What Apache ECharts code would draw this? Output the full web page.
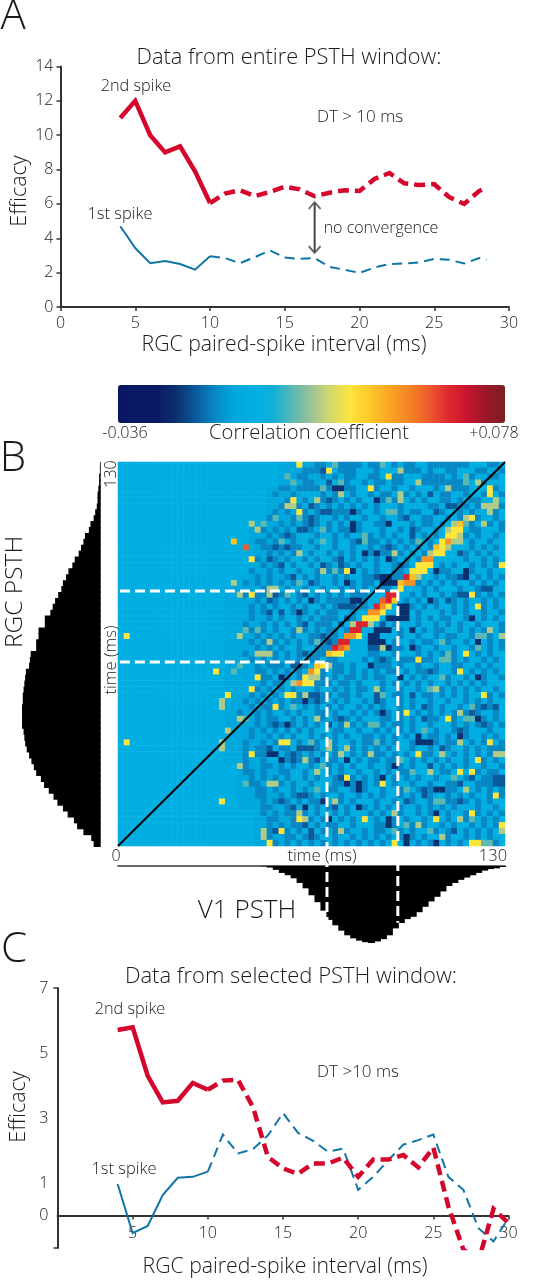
<!DOCTYPE html>
<html><head><meta charset="utf-8">
<style>html,body{margin:0;padding:0;background:#fff}#c{width:536px;height:1280px}</style>
<script src="https://cdn.jsdelivr.net/npm/echarts@6/dist/echarts.min.js"></script>
</head><body><div id="c"></div>
<script>
// Panel A values
const intervalA=[4,5,6,7,8,9,10,11,12,13,14,15,16,17,18,19,20,21,22,23,24,25,26,27,28,28.5];
const secondSpikeA=[11,12,10,9,9.35,7.9,6.05,6.6,6.8,6.45,6.7,7,6.85,6.45,6.65,6.8,6.75,7.45,7.8,7.2,7.1,7.15,6.4,6,6.75,6.95];
const firstSpikeA=[4.7,3.43,2.55,2.67,2.5,2.17,2.95,2.85,2.55,2.9,3.3,2.88,2.8,2.85,2.33,2.17,1.98,2.3,2.5,2.53,2.6,2.8,2.75,2.53,2.85,2.75];
const arrowA=[3.2,6.05];
const ticksAX=[0,5,10,15,20,25,30];
const ticksAY=[0,2,4,6,8,10,12,14];
// Panel C values
const intervalC=[4,5,6,7,8,9,10,11,12,13,14,15,16,17,18,19,20,21,22,23,24,25,26,27,28,29,30];
const secondSpikeC=[5.71,5.79,4.3,3.48,3.53,4.08,3.87,4.15,4.18,3.34,1.8,1.45,1.28,1.6,1.6,1.78,1.19,1.72,1.72,1.86,1.48,2.09,.28,-1.05,-1.4,.2,-.23];
const firstSpikeC=[.97,-.54,-.32,.63,1.16,1.19,1.35,2.49,1.91,2.04,2.47,3.15,2.54,2.3,1.96,2.06,.79,1.19,1.7,2.18,2.32,2.49,1.19,.79,-.39,-.8,-.08];
const ticksCX=[5,10,15,20,25,30];
const ticksCY=[0,1,3,5,7];
// PSTH panels (relative rate per 2 ms bin)
const rgcPsth=[1,1,2,2,3,4,4,5,7,9,13,15,20,22,25,28,33,36,41,44,48,50,54,58,61,64,71,71,79,79,82,82,89,90,91,95,96,97,98,99,99,100,100,100,100,98,97,96,94,91,88,85,82,76,72,66,60,55,48,42,34,30,22,12,9];
const v1Psth=[0,0,0,0,0,0,0,0,0,0,0,0,0,0,0,0,0,0,0,0,0,0,0,0,.5,2,5,9,12,16,22,29,38,47,58,70,77,84,90,94,97,99,100,98,95,90,81,74,69,66,60,53,46,40,33,26,22,18,15,12,9,6,4,3,1];
// Correlation map: level values and the cells read at each level [col,row,...]; row 0 is the top
const backgroundLevel=.0039, fringeLevel=-.0014, mediumLevel=-.0075, darkLevel=-.0132, navyLevel=-.0189;
const tealLevel=.0155, sageLevel=.023, yellowLevel=.0324, amberLevel=.039, orangeLevel=.047, vermilionLevel=.0552, redLevel=.0625;
const colorStops=['#0a1560','#0b1a68','#0a1a62','#0b3070','#0a5a9c','#0788c4','#00a8de','#00aee2','#10b0d8','#5ab8b4','#9cc498','#d6d86a','#fde53c','#fdc82a','#f9a522','#f58526','#ee5f2c','#e02a30','#c8162f','#9c1628','#7a2020'];
const fringeBands=[[0,3,27,33],[4,10,25,30],[11,20,22,27],[21,40,18,24],[41,50,18,24],[51,58,20,26],[59,64,23,28]];
const mediumByRow=[
[33,34,37,38,39,40,42,43,46,48,49,52,53,54,55,56,57,58,62,63],
[31,32,33,37,38,39,43,48,49,50,52,55,56,60,61,64],
[30,31,34,36,38,39,42,43,46,47,51,52,53,54,56,59,62,63],
[31,32,35,38,41,43,44,46,47,51,52,53,54,55,56,57,61],
[27,28,30,31,32,33,35,38,39,43,46,49,53,56,57,58,63],
[26,29,34,36,39,42,44,45,48,50,52,54,55,58,61,64],
[28,31,34,36,38,40,44,46,49,51,54,55,57,59,60],
[27,30,33,35,37,39,41,43,47,52,53,57,58,60,64],
[26,28,31,33,36,37,38,40,43,47,49,50,54,57,59,63],
[25,29,31,33,36,38,41,44,47,51,52,55,57,60,63],
[27,29,31,33,35,37,40,43,44,49,51,52,54,59,62,64],
[24,26,28,32,35,37,38,40,44,47,50,53,59,60,64],
[25,27,29,33,36,38,42,44,46,51,53,58,60,63],
[23,24,26,29,32,36,39,42,43,45,47,49,52,59,62],
[24,25,27,29,30,33,36,39,42,44,46,48,50,52,59,61,63],
[25,27,29,32,35,37,39,42,44,45,47,49,51,58,60,62],
[23,26,28,31,33,36,39,41,43,46,48,50,58,61,63],
[24,26,29,32,35,38,40,43,46,48,54,56,59,61,63],
[22,25,27,30,33,35,37,41,43,46,47,49,53,54,55,59,62],
[23,25,28,31,33,36,38,41,42,43,46,47,53,55,56,60,62,64],
[21,23,25,27,29,33,36,39,41,42,50,52,54,56,59,61,63],
[24,26,28,31,34,37,39,41,43,44,45,51,53,57,60,62],
[21,23,24,27,30,33,35,37,39,40,41,49,51,54,56,60,62,64],
[23,26,28,30,33,35,36,37,38,41,48,50,53,56,58,61,63],
[22,24,26,29,31,34,36,40,41,49,51,53,56,58,61,63],
[22,24,27,29,31,33,35,36,39,50,54,56,58,61,64],
[22,25,27,30,32,34,35,36,39,50,52,54,55,58,61,63],
[21,24,26,28,30,33,34,35,37,46,50,53,55,57,60,64],
[22,24,26,29,31,33,35,36,38,47,51,53,54,57,59,61,64],
[23,25,27,29,32,33,35,36,47,50,53,55,56,59,62],
[22,24,26,28,30,32,34,36,46,49,51,52,55,58,62,64],
[23,25,27,30,33,34,35,46,47,50,53,56,59,62,64],
[21,26,28,30,32,33,34,42,43,46,50,52,54,56,60,62],
[22,24,26,28,30,32,33,35,36,41,43,45,47,48,49,51,52,56,58,61,63],
[23,25,26,27,31,36,37,39,43,44,45,47,50,53,56,57,60,62],
[23,24,26,28,30,34,36,37,39,41,43,45,46,48,50,51,53,56,59,61,63],
[24,25,28,30,34,36,38,39,41,43,44,49,51,55,58,61,64],
[24,26,27,33,34,35,37,38,40,44,46,48,50,52,55,57,59,61],
[23,25,27,29,33,36,38,40,41,44,47,50,54,56,58,60,63],
[22,24,26,30,34,35,37,38,40,46,47,51,52,54,56,58,62,64],
[21,23,25,27,29,30,32,34,36,38,41,44,47,49,52,55,58,60,62],
[22,24,25,27,31,33,35,37,40,42,44,47,49,52,54,57,60,62],
[20,23,25,28,30,33,34,36,39,41,43,45,47,50,52,54,56,58,60,63],
[21,23,25,26,29,31,34,36,38,40,44,45,47,49,52,53,56,61,63],
[23,25,27,29,31,33,37,39,41,44,46,47,49,52,56,58,60,62,64],
[22,24,26,28,30,32,36,37,40,43,45,47,49,53,56,58,62],
[22,25,27,29,32,34,36,38,41,42,44,46,48,52,53,55,58,61,63],
[21,24,26,30,33,36,39,41,42,44,46,49,53,55,56,59,61,64],
[21,23,24,27,28,33,36,39,41,43,45,49,52,55,58,60,62,63,64],
[21,23,24,28,30,32,34,36,39,41,43,44,46,48,51,52,56,58,60,62],
[21,24,28,30,32,35,36,40,42,43,45,46,49,51,53,55,58,61,63],
[21,24,25,27,29,32,35,37,39,42,45,47,49,54,56,58,61,64],
[21,22,24,27,28,31,35,37,40,43,45,47,48,54,55,60,62,63],
[22,24,26,28,31,33,36,39,41,43,46,48,50,53,56,58,61,62],
[22,23,27,29,32,36,37,39,41,43,46,49,52,55,56,60,61,62],
[23,24,26,29,31,35,36,39,41,44,47,50,52,55,56,60,62,64],
[23,24,27,29,32,34,37,40,42,44,47,49,52,55,57,59,62,64],
[24,26,28,30,32,33,37,39,43,46,49,52,55,56,58,60,62],
[24,25,28,31,33,35,38,41,43,45,47,50,52,54,56,60,63],
[24,26,28,29,31,33,36,38,42,44,47,50,52,55,58,60,62,64],
[25,26,29,32,34,37,39,41,43,46,48,51,55,58,61,63],
[25,27,29,30,33,35,36,39,43,44,46,49,51,54,56,59,61,63],
[25,28,30,32,34,36,38,41,43,44,47,49,53,55,58,60,62],
[25,28,29,31,33,36,39,41,43,45,47,49,51,55,58,60,62],
[26,28,30,32,34,36,38,40,42,44,48,50,52,55,57,63]];
const darkCells=[34,1,35,3,32,7,35,6,34,8,35,8,32,9,32,10,30,11,31,11,28,12,26,14,28,14,40,13,27,17,34,17,37,16,37,17,25,16,29,19,32,20,49,11,49,12,48,9,53,8,47,17,52,5,57,19,61,21,62,21,45,14,55,7,56,7,57,15,43,19,26,22,31,22,25,23,27,25,25,25,31,27,31,32,34,29,35,30,37,24,38,24,39,24,37,27,38,26,29,34,30,34,32,39,33,39,33,40,57,22,58,22,55,23,44,27,44,33,42,31,43,31,52,35,43,39,43,40,49,39,51,41,61,41,63,41,59,42,26,44,35,44,37,43,61,44,51,43,29,49,25,48,29,50,30,48,31,48,32,48,33,50,37,53,30,56,31,56,27,57,29,58,36,58,32,62,32,63,26,62,31,61,57,45,54,48,52,51,57,54,63,53,64,53,63,54,64,54,51,55,51,56,57,57,48,57,59,53,56,62];
const navyCells=[36,4,37,4,39,8,39,10,39,11,41,15,39,18,38,20,43,6,45,10,43,15,45,16,53,18,58,18,58,19,44,19,45,19,44,20,45,20,46,20,32,23,39,23,40,23,30,25,27,36,31,40,52,23,47,24,48,24,47,25,48,25,47,26,48,26,45,26,46,26,43,28,44,28,45,28,49,28,42,29,43,29,42,30,43,30,44,30,49,31,45,31,60,30,59,26,60,36,42,34,47,36,44,42,28,44,26,49,25,49,27,50,38,50,38,54,40,54,40,55,34,57,31,58,40,58,35,60,60,43,50,46,57,46,50,47,51,47,52,47,46,51,44,53,53,55,54,55,53,59,45,60,45,61,48,63,48,64,53,64];
const tealCells=[36,0,28,2,29,3,37,3,26,9,30,9,24,10,36,18,30,20,34,13,34,11,27,13,34,4,41,12,41,13,44,0,58,3,58,2,45,6,45,8,46,8,58,10,50,13,23,28,21,28,28,22,33,30,54,30,60,29,61,29,60,31,55,32,54,33,55,33,54,36,52,38,44,39,59,41,61,64,62,64,19,35,20,34,29,41,51,45,42,44,43,44,58,43,59,43,43,47,32,47,47,50,34,51,33,55,21,54,49,52,56,53,48,55,53,57,54,57,59,60,48,61,46,62,52,62,21,43];
const sageCells=[47,1,28,7,29,7,33,6,37,5,22,10,23,11,30,15,34,18,19,20,25,21,26,21,50,3,55,4,60,3,47,5,47,6,63,6,61,7,62,7,63,7,62,8,61,10,58,9,46,15,52,15,56,10,55,11,57,12,56,13,57,13,55,14,50,19,20,22,25,22,20,29,30,28,25,30,23,32,24,32,25,32,39,27,29,37,31,39,32,36,33,36,35,34,42,27,62,28,64,29,44,31,43,38,53,38,57,42,20,43,33,43,38,44,17,40,17,41,17,47,17,48,18,45,20,51,25,54,26,54,33,52,38,48,35,47,35,48,37,49,31,50,36,57,30,59,31,60,24,62,24,63,37,62,57,47,54,49,42,49,63,49,64,49,46,59,57,60,50,61,64,62,54,63,58,55,52,52];
const yellowCells=[30,0,35,1,29,6,30,8,22,16,38,18,42,4,45,2,62,4,62,5,59,9,64,17,59,22,60,24,50,33,57,35,58,32,1,29,1,47,17,57,18,39,16,35,22,22,23,36,22,38,22,49,26,41,27,47,28,47,30,60,38,53,27,62,25,64,41,60,55,43,62,47,50,49,60,50,57,52,59,52,44,54,63,56,59,59,53,60,64,61,46,64,59,64,60,64,61,39,48,42,57,11,56,11,56,12,55,12,54,13,54,14,53,15,54,15,50,17,51,17,52,17,50,18,51,18,49,18,47,21,42,26,43,26,41,26,44,25,45,24,40,29,36,32,37,32,34,34,33,35,31,36,31,37,32,37,28,39,29,39];
const amberCells=[19,13,57,10,53,14,49,19,47,20,46,23,35,32,33,34];
const orangeCells=[55,13,51,16,52,16,48,20,49,20,44,24,43,25,42,25,38,29,39,29,38,31,32,35,30,37];
const vermilionCells=[21,14,44,23,37,31];
const redCells=[48,19,45,22,46,22,45,23,43,24,40,27,41,27,39,28,40,28,37,30,38,30,36,31];
const colorbarMin=-.036, colorbarMax=.078;
// Selected-window guides, in ms on the map's axes
const windowRowsMs=[86.3,62.3], windowColsMs=[94,70.2];
const guideLeftEndsMs=[-19.5,-29.6], guideBottomMs=-26;

const ink='#1a1a1a', red='#d5062e', blue='#0f75a5', FONT='"Open Sans"';
const mapRows=Array.from({length:65},(_,i)=>String(i));
const pairs=(xs,ys)=>xs.map((x,i)=>[x,ys[i]]);
const solidTo=(xs,ys)=>pairs(xs,ys).filter(p=>p[0]<=10);
const dashedFrom=(xs,ys)=>pairs(xs,ys).filter(p=>p[0]>=10);

const grid=new Array(65).fill(0).map(()=>new Array(65).fill(backgroundLevel));
fringeBands.forEach(([a,b,s,e])=>{for(let r=a;r<=b;r++)for(let c=s;c<=e;c++)grid[r][c]=fringeLevel;});
mediumByRow.forEach((cols,r)=>cols.forEach(c=>grid[r][c]=mediumLevel));
[[tealCells,tealLevel],[darkCells,darkLevel],[navyCells,navyLevel],[sageCells,sageLevel],[yellowCells,yellowLevel],[amberCells,amberLevel],[orangeCells,orangeLevel],[vermilionCells,vermilionLevel],[redCells,redLevel]]
 .forEach(([list,v])=>{for(let i=0;i<list.length;i+=2)grid[list[i+1]][list[i]]=v;});
const heatData=[];grid.forEach((row,r)=>row.forEach((v,c)=>heatData.push([c,r,v])));

const line=(xi,yi,data,color,width,type,extra)=>Object.assign({type:'line',xAxisIndex:xi,yAxisIndex:yi,data,symbol:'none',silent:true,lineStyle:{color,width,type:type||'solid',cap:'butt',join:'miter'}},extra||{});
const T=(x,y,text,size,o)=>({type:'text',x,y,rotation:(o&&o.rot)||0,z:50,silent:true,style:{text,fill:ink,font:`300 ${size}px ${FONT}`,align:'center',verticalAlign:'middle'}});
const axisStyle={lineStyle:{color:'#333',width:2}};
const labelStyle={color:ink,fontFamily:FONT,fontSize:16,fontWeight:300};
const chevron='path://M0,0 L6,7 L5,8.5 L0,2.6 L-5,8.5 L-6,7 Z';
const rgcBars=(p,api)=>{const r=api.value(1),s=api.coord([0,r]),e=api.coord([api.value(0),r]),h=api.size([0,1])[1];
 return {type:'rect',shape:{x:e[0],y:s[1]-h/2,width:s[0]-e[0],height:h+1},style:{fill:'#000'}};};
const v1Bars=(p,api)=>{const c=api.value(0),s=api.coord([c,0]),e=api.coord([c,api.value(1)]),w=api.size([1,0])[0];
 return {type:'rect',shape:{x:s[0]-w/2,y:s[1],width:w+1,height:e[1]-s[1]},style:{fill:'#000'}};};

const opt={animation:false,backgroundColor:'#fff',
grid:[
 {left:60.5,top:66.5,width:448.5,height:240.5},
 {left:118,top:462,width:387,height:384},
 {left:118,top:462,width:387,height:384},
 {left:22,top:462,width:78.7,height:384},
 {left:118,top:866,width:387,height:77},
 {left:57.5,top:988,width:451,height:260}],
xAxis:[
 {gridIndex:0,type:'value',min:0,max:30,interval:5,axisLine:axisStyle,axisTick:{length:4,lineStyle:{color:'#333',width:1.5}},axisLabel:Object.assign({margin:8},labelStyle,{customValues:ticksAX}),splitLine:{show:false}},
 {gridIndex:1,type:'category',data:mapRows,show:false},
 {gridIndex:2,type:'value',min:0,max:130,show:false},
 {gridIndex:3,type:'value',min:0,max:100,inverse:true,show:false},
 {gridIndex:4,type:'category',data:mapRows,axisLine:{lineStyle:{color:'#666',width:2}},axisTick:{show:false},axisLabel:{show:false},splitLine:{show:false},position:'top'},
 {gridIndex:5,type:'value',min:0,max:30,interval:5,position:'bottom',offset:-32.5,axisLine:Object.assign({onZero:false},axisStyle),axisTick:{length:4,customValues:ticksCX,lineStyle:{color:'#333',width:1.5}},axisLabel:Object.assign({margin:10},labelStyle,{customValues:ticksCX}),splitLine:{show:false}}],
yAxis:[
 {gridIndex:0,type:'value',min:0,max:14,interval:2,axisLine:Object.assign({show:true},axisStyle),axisTick:{show:true,length:4,lineStyle:{color:'#333',width:1.5}},axisLabel:Object.assign({margin:7},labelStyle,{customValues:ticksAY}),splitLine:{show:false}},
 {gridIndex:1,type:'category',data:mapRows,inverse:true,show:false},
 {gridIndex:2,type:'value',min:0,max:130,show:false},
 {gridIndex:3,type:'category',data:mapRows,inverse:true,show:false},
 {gridIndex:4,type:'value',min:0,max:100,inverse:true,show:false},
 {gridIndex:5,type:'value',min:-1,max:7,axisLine:Object.assign({show:true,onZero:false},axisStyle),axisTick:{show:true,length:4,customValues:[-1,7],lineStyle:{color:'#333',width:1.5}},axisLabel:Object.assign({margin:9},labelStyle,{customValues:ticksCY}),splitLine:{show:false}}],
visualMap:{type:'continuous',seriesIndex:0,min:colorbarMin,max:colorbarMax,orient:'horizontal',left:118,top:385,itemWidth:38,itemHeight:387,padding:0,calculable:false,realtime:false,showLabel:false,inRange:{color:colorStops},textStyle:{fontSize:0},hoverLink:false},
series:[
 {type:'heatmap',xAxisIndex:1,yAxisIndex:1,data:heatData,silent:true,progressive:0,emphasis:{disabled:true},itemStyle:{borderWidth:0}},
 line(2,2,[[0,0],[130,130]],'#000',2,'solid',{z:6}),
 line(2,2,[[guideLeftEndsMs[0],windowRowsMs[0]],[windowColsMs[0],windowRowsMs[0]]],'#fff',3,[10,5],{clip:false,z:8}),
 line(2,2,[[guideLeftEndsMs[1],windowRowsMs[1]],[windowColsMs[1],windowRowsMs[1]]],'#fff',3,[10,5],{clip:false,z:8}),
 line(2,2,[[windowColsMs[0],windowRowsMs[0]],[windowColsMs[0],guideBottomMs]],'#fff',3,[10,5],{clip:false,z:8}),
 line(2,2,[[windowColsMs[1],windowRowsMs[1]],[windowColsMs[1],guideBottomMs]],'#fff',3,[10,5],{clip:false,z:8}),
 {type:'custom',xAxisIndex:3,yAxisIndex:3,silent:true,z:2,clip:false,renderItem:rgcBars,encode:{x:0,y:1},data:rgcPsth.map((v,r)=>[v,r])},
 {type:'custom',xAxisIndex:4,yAxisIndex:4,silent:true,z:2,clip:false,renderItem:v1Bars,encode:{x:0,y:1},data:v1Psth.map((v,c)=>[c,v])},
 line(0,0,solidTo(intervalA,secondSpikeA),red,4.5),
 line(0,0,dashedFrom(intervalA,secondSpikeA),red,4.5,[11,6]),
 line(0,0,solidTo(intervalA,firstSpikeA),blue,2),
 line(0,0,dashedFrom(intervalA,firstSpikeA),blue,2,[10,6]),
 line(0,0,[[17,arrowA[0]],[17,arrowA[1]]],'#444',2,'solid',{z:9}),
 {type:'scatter',xAxisIndex:0,yAxisIndex:0,silent:true,z:9,symbol:chevron,symbolSize:[13,9],data:[[17,arrowA[1]-.13]],itemStyle:{color:'#444'}},
 {type:'scatter',xAxisIndex:0,yAxisIndex:0,silent:true,z:9,symbol:chevron,symbolSize:[13,9],symbolRotate:180,data:[[17,arrowA[0]+.13]],itemStyle:{color:'#444'}},
 line(5,5,solidTo(intervalC,firstSpikeC),blue,2),
 line(5,5,dashedFrom(intervalC,firstSpikeC),blue,2,[10,6]),
 line(5,5,solidTo(intervalC,secondSpikeC),red,4.5),
 line(5,5,dashedFrom(intervalC,secondSpikeC),red,4.5,[11,6])
],
graphic:[
 T(13,17,'A',42),T(13,459,'B',42),T(14,950,'C',42),
 T(289,58,'Data from entire PSTH window:',21.8),
 T(136,86,'2nd spike',16.3),T(120,214,'1st spike',16.5),
 T(360,117,'DT > 10 ms',17),T(381,228,'no convergence',16),
 T(20,191,'Efficacy',21.5,{rot:Math.PI/2}),
 T(284,345,'RGC paired-spike interval (ms)',21.2),
 T(125,433,'-0.036',16),T(309,433,'Correlation coefficient',20.2),T(494,433,'+0.078',16),
 T(15,592,'RGC PSTH',24.5,{rot:Math.PI/2}),
 T(111,474,'130',16,{rot:Math.PI/2}),T(111,660,'time (ms)',16.7,{rot:Math.PI/2}),
 T(116,856,'0',16),T(322,856,'time (ms)',16.7),T(493,856,'130',16.5),
 T(247,911,'V1 PSTH',26),
 T(291,977,'Data from selected PSTH window:',22),
 T(130,1009,'2nd spike',16.3),T(124,1169,'1st spike',16.5),T(358,1072,'DT >10 ms',17),
 T(19,1107,'Efficacy',21.5,{rot:Math.PI/2}),
 T(285,1267,'RGC paired-spike interval (ms)',21.2)
]};
echarts.init(document.getElementById('c'),null,{renderer:'canvas'}).setOption(opt);
</script></body></html>
